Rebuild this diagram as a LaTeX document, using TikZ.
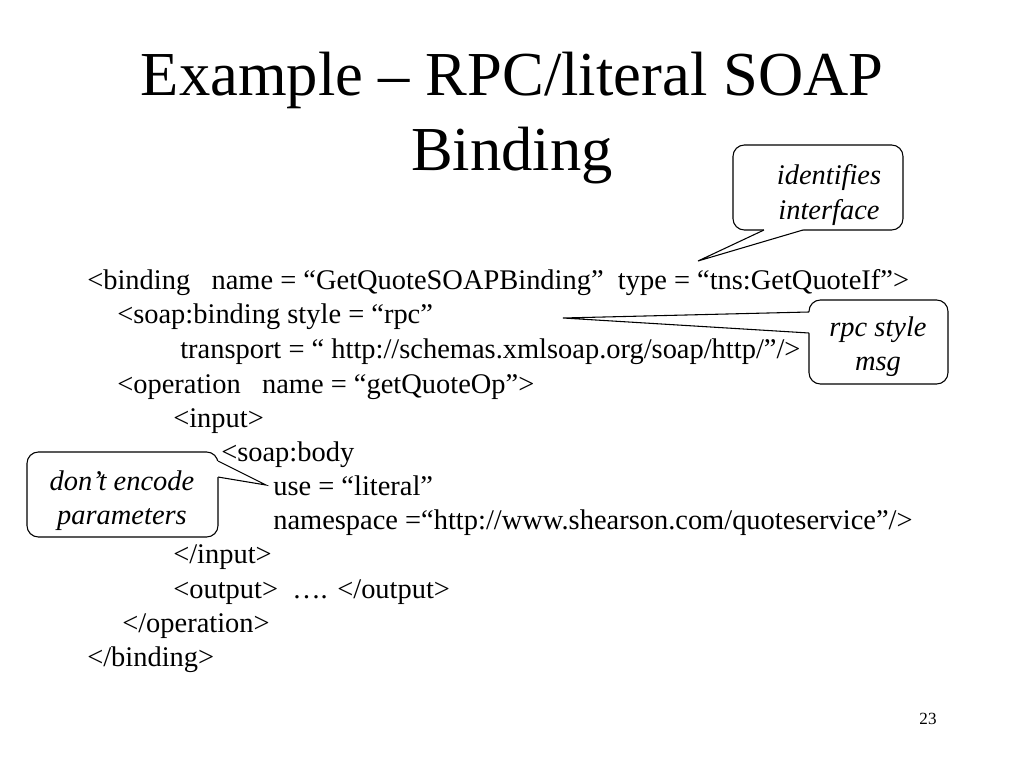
\documentclass[tikz,border=0pt]{standalone}
\usepackage{fontspec}
\setmainfont{Liberation Serif}
\begin{document}
\begin{tikzpicture}[x=0.703125pt,y=-0.703125pt,
  code/.style={anchor=base west,inner sep=0pt,font=\fontsize{20}{24}\selectfont},
  titletext/.style={anchor=base,inner sep=0pt,font=\fontsize{44}{52}\selectfont},
  notebox/.style={draw=black,line width=0.75pt,fill=white,rounded corners=8pt,inner sep=0pt},
  notetext/.style={align=center,inner sep=0pt,font=\fontsize{20}{24}\selectfont\itshape},
  pointer/.style={draw=black,line width=0.75pt,line join=miter}]
\useasboundingbox[fill=white] (0,0) rectangle (1024,768);

% title
\node[titletext] (t1) at (512,96) {Example – RPC/literal SOAP};
\node[titletext] (t2) at (512,171) {Binding};

% code lines
\node[code] (l1) at (87,290) {<binding\ \ \ name = “GetQuoteSOAPBinding”\ \ type = “tns:GetQuoteIf”>};
\node[code] (l2) at (117,324) {<soap:binding style = “rpc”};
\node[code] (l3) at (180,358) {transport = “ http://schemas.xmlsoap.org/soap/http/”/>};
\node[code] (l4) at (117,393) {<operation\ \ \ name = “getQuoteOp”>};
\node[code] (l5) at (173,427) {<input>};
\node[code] (l6) at (221,461) {<soap:body};
\node[code] (l7) at (273,495) {use = “literal”};
\node[code] (l8) at (273,529) {namespace =“http://www.shearson.com/quoteservice”/>};
\node[code] (l9) at (173,563) {</input>};
\node[code] (l10) at (173,598) {<output>\ \ …. </output>};
\node[code] (l11) at (122,632) {</operation>};
\node[code] (l12) at (87,666) {</binding>};

% page number
\node[anchor=base,inner sep=0pt,font=\fontsize{12}{14}\selectfont] (pg) at (928,724) {23};

% callout 1: identifies interface
\draw[notebox] (733,145) rectangle (903,230);
\node[notetext] (c1) at (829,195) {identifies\\interface};
\coordinate (c1tip) at (698,261);
\fill[white] (764,224) -- (764,230) -- (c1tip) -- (803,230) -- (803,224) -- cycle;
\draw[pointer] (764,230) -- (c1tip) -- (803,230);

% callout 2: rpc style msg
\draw[notebox] (809,300) rectangle (948,384);
\node[notetext] (c2) at (878,347) {rpc style\\msg};
\coordinate (c2tip) at (563,318);
\fill[white] (815,312) -- (809,312) -- (c2tip) -- (809,333) -- (815,333) -- cycle;
\draw[pointer] (809,312) -- (c2tip) -- (809,333);

% callout 3: don't encode parameters
\draw[notebox] (27,452) rectangle (218,537);
\node[notetext] (c3) at (122,501) {don’t encode\\parameters};
\coordinate (c3tip) at (266,485);
\fill[white] (212,461) -- (218,461) -- (c3tip) -- (218,477) -- (212,477) -- cycle;
\draw[pointer] (218,461) -- (c3tip) -- (218,477);
\end{tikzpicture}
\end{document}
